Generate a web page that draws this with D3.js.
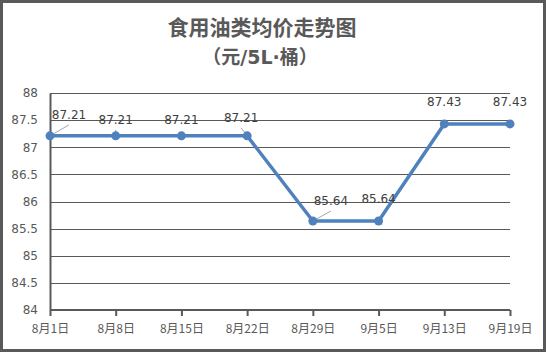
<!DOCTYPE html>
<html lang="zh">
<head>
    <meta charset="utf-8">
    <title>食用油类均价走势图</title>
    <script src="https://d3js.org/d3.v7.min.js"></script>
    <style>
        body { margin: 0; background: #fff; }
        text { font-family: "Noto Sans CJK SC", "DejaVu Sans", sans-serif; }
    </style>
</head>
<body>

<script>
    const dates  = ['8月1日','8月8日','8月15日','8月22日','8月29日','9月5日','9月13日','9月19日'];
    const prices = [87.21, 87.21, 87.21, 87.21, 85.64, 85.64, 87.43, 87.43];
    const yTicks = [84, 84.5, 85, 85.5, 86, 86.5, 87, 87.5, 88];

    // label nudges (dx, dy from the point), as placed in the original
    const labelShift = [[19,-17],[0,-12],[0,-12],[-6,-14],[18,-16],[0,-18],[0,-18],[0,-18]];

    const W = 546, H = 352;
    const svg = d3.select("body").append("svg").attr("width", W).attr("height", H);

    // outer frame
    svg.append("rect")
        .attr("x", 1.5).attr("y", 1.5)
        .attr("width", W - 3).attr("height", H - 3)
        .attr("fill", "#fff").attr("stroke", "#595959").attr("stroke-width", 3);

    const x = d3.scalePoint().domain(dates).range([50, 510]);
    const y = d3.scaleLinear().domain([84, 88]).range([310, 93]);

    // grid
    svg.append("g")
        .selectAll("line")
        .data(yTicks.filter(d => d > 84)).join("line")
        .attr("x1", 50).attr("x2", 510)
        .attr("y1", d => Math.round(y(d)) + 0.5).attr("y2", d => Math.round(y(d)) + 0.5)
        .attr("stroke", "#595959").attr("stroke-width", 1);

    // y axis
    const yAxis = svg.append("g")
        .attr("transform", "translate(50,0)")
        .call(d3.axisLeft(y).tickValues(yTicks).tickSize(0).tickPadding(12).tickFormat(d => d));
    yAxis.select(".domain").attr("stroke", "#595959").attr("stroke-width", 2);
    yAxis.selectAll("text").attr("fill", "#595959").style("font-size", "12px")
        .style("font-family", "'DejaVu Sans', sans-serif");

    // x axis
    const xAxis = svg.append("g")
        .attr("transform", "translate(0,310)")
        .call(d3.axisBottom(x).tickSize(6).tickPadding(8));
    xAxis.select(".domain").attr("stroke", "#595959").attr("stroke-width", 2).attr("d", "M50,0H510");
    xAxis.selectAll(".tick line").attr("stroke", "#595959").attr("stroke-width", 2);
    xAxis.selectAll("text").attr("fill", "#595959").style("font-size", "12px");

    // series
    const line = d3.line().x((d, i) => x(dates[i])).y(d => y(d));
    svg.append("path")
        .datum(prices)
        .attr("d", line)
        .attr("fill", "none")
        .attr("stroke", "#4f81bd")
        .attr("stroke-width", 3.5)
        .attr("stroke-linejoin", "round");

    // leader lines where labels were moved off the point
    svg.append("g")
        .selectAll("line")
        .data(prices.map((d, i) => i).filter(i => labelShift[i][0] !== 0 || i === 1))
        .join("line")
        .attr("x1", i => x(dates[i])).attr("y1", i => y(prices[i]))
        .attr("x2", i => x(dates[i]) + labelShift[i][0]).attr("y2", i => y(prices[i]) + labelShift[i][1] + 6)
        .attr("stroke", "#a6a6a6").attr("stroke-width", 1);

    svg.append("g")
        .selectAll("circle")
        .data(prices).join("circle")
        .attr("cx", (d, i) => x(dates[i]))
        .attr("cy", d => y(d))
        .attr("r", 4.5)
        .attr("fill", "#4f81bd");

    svg.append("g")
        .selectAll("text")
        .data(prices).join("text")
        .attr("x", (d, i) => x(dates[i]) + labelShift[i][0])
        .attr("y", (d, i) => y(d) + labelShift[i][1])
        .attr("text-anchor", "middle")
        .attr("fill", "#404040")
        .style("font-size", "12px")
        .style("font-family", "'DejaVu Sans', sans-serif")
        .text(d => d.toFixed(2));

    // title, two lines
    svg.append("text")
        .attr("x", 262).attr("y", 35)
        .attr("text-anchor", "middle")
        .attr("fill", "#595959")
        .style("font-size", "21px")
        .style("font-weight", "bold")
        .text("食用油类均价走势图");

    const sub = svg.append("text")
        .attr("x", 260).attr("y", 64)
        .attr("text-anchor", "middle")
        .attr("fill", "#595959")
        .style("font-size", "19px")
        .style("font-weight", "bold");
    sub.append("tspan").text("（元");
    sub.append("tspan").style("font-family", "'DejaVu Sans', sans-serif").text("/5L·");
    sub.append("tspan").text("桶）");
</script>

</body>
</html>
